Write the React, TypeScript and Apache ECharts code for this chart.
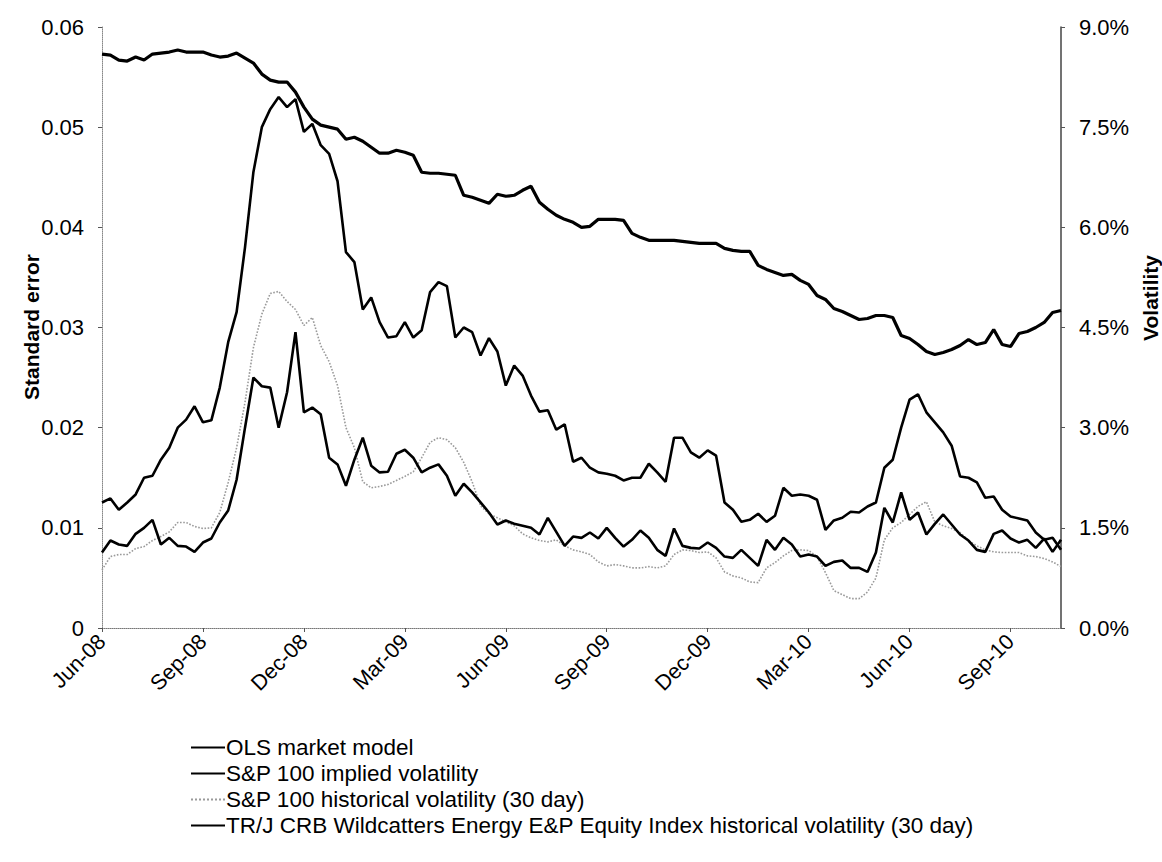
import React, { useEffect, useRef } from "react";
import * as echarts from "echarts";

// Sampling grid: months since Jun-08 (weekly steps)
const months: number[] = Array.from({ length: 115 }, (_, i) => i * 0.25);

const xTickLabels = ["Jun-08", "Sep-08", "Dec-08", "Mar-09", "Jun-09", "Sep-09", "Dec-09", "Mar-10", "Jun-10", "Sep-10"];

const seriesNames = [
  "OLS market model",
  "S&P 100 implied volatility",
  "S&P 100 historical volatility (30 day)",
  "TR/J CRB Wildcatters Energy E&P Equity Index historical volatility (30 day)",
];

// Standard error (left axis)
const olsStdError = [
  0.0573, 0.0572, 0.0567, 0.0566, 0.0570, 0.0567, 0.0573, 0.0574, 0.0575, 0.0577,
  0.0575, 0.0575, 0.0575, 0.0572, 0.0570, 0.0571, 0.0574, 0.0569, 0.0564, 0.0553,
  0.0547, 0.0545, 0.0545, 0.0535, 0.0520, 0.0508, 0.0502, 0.0500, 0.0498, 0.0488,
  0.0490, 0.0486, 0.0480, 0.0474, 0.0474, 0.0477, 0.0475, 0.0472, 0.0455, 0.0454,
  0.0454, 0.0453, 0.0452, 0.0432, 0.0430, 0.0427, 0.0424, 0.0433, 0.0431, 0.0432,
  0.0437, 0.0441, 0.0425, 0.0418, 0.0412, 0.0408, 0.0405, 0.0400, 0.0401, 0.0408,
  0.0408, 0.0408, 0.0407, 0.0394, 0.0390, 0.0387, 0.0387, 0.0387, 0.0387, 0.0386,
  0.0385, 0.0384, 0.0384, 0.0384, 0.0379, 0.0377, 0.0376, 0.0376, 0.0362, 0.0358,
  0.0355, 0.0352, 0.0353, 0.0347, 0.0343, 0.0332, 0.0328, 0.0319, 0.0316, 0.0312,
  0.0308, 0.0309, 0.0312, 0.0312, 0.0310, 0.0292, 0.0289, 0.0283, 0.0276, 0.0273,
  0.0275, 0.0278, 0.0282, 0.0288, 0.0283, 0.0285, 0.0298, 0.0283, 0.0281, 0.0294,
  0.0296, 0.0300, 0.0305, 0.0315, 0.0317,
];

// Volatility in % (right axis)
const spImpliedVol = [
  1.13, 1.31, 1.25, 1.23, 1.41, 1.50, 1.62, 1.25, 1.35, 1.23,
  1.22, 1.14, 1.28, 1.34, 1.58, 1.76, 2.22, 3.00, 3.75, 3.62,
  3.60, 3.00, 3.53, 4.43, 3.23, 3.30, 3.20, 2.55, 2.45, 2.13,
  2.52, 2.85, 2.43, 2.33, 2.34, 2.61, 2.67, 2.55, 2.33, 2.40,
  2.45, 2.28, 1.98, 2.16, 2.03, 1.88, 1.73, 1.55, 1.61, 1.56,
  1.53, 1.50, 1.40, 1.65, 1.44, 1.23, 1.37, 1.35, 1.43, 1.34,
  1.50, 1.35, 1.22, 1.32, 1.46, 1.35, 1.17, 1.08, 1.49, 1.23,
  1.20, 1.19, 1.28, 1.20, 1.07, 1.05, 1.17, 1.05, 0.93, 1.32,
  1.17, 1.35, 1.25, 1.07, 1.10, 1.07, 0.93, 0.99, 1.01, 0.90,
  0.90, 0.84, 1.13, 1.80, 1.58, 2.03, 1.62, 1.73, 1.40, 1.56,
  1.70, 1.55, 1.40, 1.31, 1.17, 1.14, 1.41, 1.46, 1.34, 1.28,
  1.32, 1.20, 1.34, 1.14, 1.32,
];

const spHistVol = [
  0.87, 1.07, 1.10, 1.10, 1.19, 1.22, 1.31, 1.37, 1.44, 1.58,
  1.58, 1.52, 1.49, 1.50, 1.73, 2.18, 2.70, 3.38, 4.20, 4.70,
  5.01, 5.04, 4.89, 4.77, 4.53, 4.65, 4.23, 3.99, 3.63, 3.00,
  2.70, 2.19, 2.10, 2.12, 2.15, 2.21, 2.27, 2.34, 2.55, 2.78,
  2.85, 2.82, 2.70, 2.48, 2.19, 1.83, 1.71, 1.65, 1.59, 1.53,
  1.41, 1.35, 1.31, 1.29, 1.32, 1.23, 1.17, 1.14, 1.10, 0.99,
  0.93, 0.95, 0.93, 0.90, 0.90, 0.92, 0.90, 0.93, 1.10, 1.17,
  1.16, 1.13, 1.14, 1.05, 0.84, 0.78, 0.75, 0.69, 0.68, 0.90,
  0.98, 1.08, 1.16, 1.17, 1.16, 1.07, 0.83, 0.56, 0.50, 0.44,
  0.44, 0.54, 0.75, 1.32, 1.50, 1.58, 1.70, 1.82, 1.89, 1.59,
  1.53, 1.49, 1.43, 1.31, 1.23, 1.17, 1.14, 1.13, 1.13, 1.13,
  1.08, 1.07, 1.04, 0.99, 0.92,
];

const energyHistVol = [
  1.88, 1.94, 1.77, 1.88, 2.00, 2.25, 2.28, 2.52, 2.70, 3.00,
  3.12, 3.32, 3.08, 3.11, 3.60, 4.28, 4.73, 5.70, 6.83, 7.50,
  7.77, 7.95, 7.80, 7.92, 7.43, 7.55, 7.23, 7.10, 6.69, 5.63,
  5.48, 4.77, 4.95, 4.58, 4.35, 4.37, 4.58, 4.35, 4.46, 5.03,
  5.18, 5.12, 4.35, 4.50, 4.43, 4.08, 4.34, 4.14, 3.63, 3.93,
  3.78, 3.48, 3.24, 3.26, 2.97, 3.05, 2.49, 2.55, 2.40, 2.33,
  2.31, 2.28, 2.21, 2.25, 2.25, 2.46, 2.33, 2.19, 2.85, 2.85,
  2.63, 2.55, 2.66, 2.58, 1.88, 1.77, 1.59, 1.62, 1.71, 1.59,
  1.68, 2.10, 1.98, 2.00, 1.98, 1.92, 1.47, 1.61, 1.65, 1.74,
  1.73, 1.82, 1.88, 2.40, 2.52, 3.00, 3.42, 3.50, 3.23, 3.08,
  2.93, 2.73, 2.27, 2.25, 2.18, 1.95, 1.97, 1.77, 1.67, 1.64,
  1.61, 1.43, 1.32, 1.35, 1.17,
];

const FONT = '"Liberation Sans", Arial, sans-serif';

export default function App() {
  const ref = useRef<HTMLDivElement>(null);

  useEffect(() => {
    document.body.style.margin = "0";
    if (!ref.current) return;
    const chart = echarts.init(ref.current, null, { renderer: "svg" });

    const pair = (arr: number[]) => months.map((m, i) => [m, arr[i]]);

    chart.setOption({
      animation: false,
      backgroundColor: "#ffffff",
      textStyle: { fontFamily: FONT, color: "#000" },
      grid: { left: 102, right: 101, top: 27, bottom: 234, containLabel: false },
      legend: {
        orient: "vertical",
        left: 190,
        top: 735,
        itemWidth: 34,
        itemHeight: 10,
        itemGap: 1,
        padding: 0,
        itemStyle: { opacity: 0, borderWidth: 0 },
        textStyle: { fontFamily: FONT, fontSize: 22.5, color: "#000", lineHeight: 25, padding: [0, 0, 0, -4] },
        data: seriesNames,
      },
      xAxis: {
        type: "value",
        min: 0,
        max: 28.5,
        interval: 3,
        axisLine: { show: true, lineStyle: { color: "#777", width: 1, type: "dotted" } },
        axisTick: { show: true, length: 4, lineStyle: { color: "#555" } },
        splitLine: { show: false },
        axisLabel: {
          rotate: 45,
          margin: 10,
          fontSize: 21.5,
          fontFamily: FONT,
          color: "#000",
          showMaxLabel: false,
          formatter: (v: number) => xTickLabels[Math.round(v / 3)] ?? "",
        },
      },
      yAxis: [
        {
          type: "value",
          min: 0,
          max: 0.06,
          interval: 0.01,
          position: "left",
          axisLine: { show: true, lineStyle: { color: "#888", width: 1, type: "dotted" } },
          axisTick: { show: true, length: 4, lineStyle: { color: "#555" } },
          splitLine: { show: false },
          axisLabel: { margin: 18, fontSize: 22, fontFamily: FONT, color: "#000" },
        },
        {
          type: "value",
          min: 0,
          max: 9,
          interval: 1.5,
          position: "right",
          axisLine: { show: true, lineStyle: { color: "#444", width: 1.5 } },
          axisTick: { show: true, length: 4, lineStyle: { color: "#555" } },
          splitLine: { show: false },
          axisLabel: {
            margin: 18,
            fontSize: 22,
            fontFamily: FONT,
            color: "#000",
            formatter: (v: number) => v.toFixed(1) + "%",
          },
        },
      ],
      graphic: [
        {
          type: "text",
          x: 31,
          y: 327,
          rotation: Math.PI / 2,
          style: {
            text: "Standard error",
            font: `bold 21px ${FONT}`,
            fill: "#000",
            textAlign: "center",
            textVerticalAlign: "middle",
          },
        },
        {
          type: "text",
          x: 1150,
          y: 298,
          rotation: Math.PI / 2,
          style: {
            text: "Volatility",
            font: `bold 21px ${FONT}`,
            fill: "#000",
            textAlign: "center",
            textVerticalAlign: "middle",
          },
        },
      ],
      series: [
        {
          name: seriesNames[0],
          type: "line",
          yAxisIndex: 0,
          symbol: "none",
          data: pair(olsStdError),
          lineStyle: { color: "#000", width: 3.2 },
          itemStyle: { color: "#000" },
          z: 5,
        },
        {
          name: seriesNames[1],
          type: "line",
          yAxisIndex: 1,
          symbol: "none",
          data: pair(spImpliedVol),
          lineStyle: { color: "#000", width: 2.6 },
          itemStyle: { color: "#000" },
          z: 4,
        },
        {
          name: seriesNames[2],
          type: "line",
          yAxisIndex: 1,
          symbol: "none",
          data: pair(spHistVol),
          lineStyle: { color: "#9a9a9a", width: 1.6, type: "dotted" },
          itemStyle: { color: "#9a9a9a" },
          z: 3,
        },
        {
          name: seriesNames[3],
          type: "line",
          yAxisIndex: 1,
          symbol: "none",
          data: pair(energyHistVol),
          lineStyle: { color: "#000", width: 2.6 },
          itemStyle: { color: "#000" },
          z: 4,
        },
      ],
    });

    return () => chart.dispose();
  }, []);

  return <div ref={ref} style={{ width: 1162, height: 862 }} />;
}
